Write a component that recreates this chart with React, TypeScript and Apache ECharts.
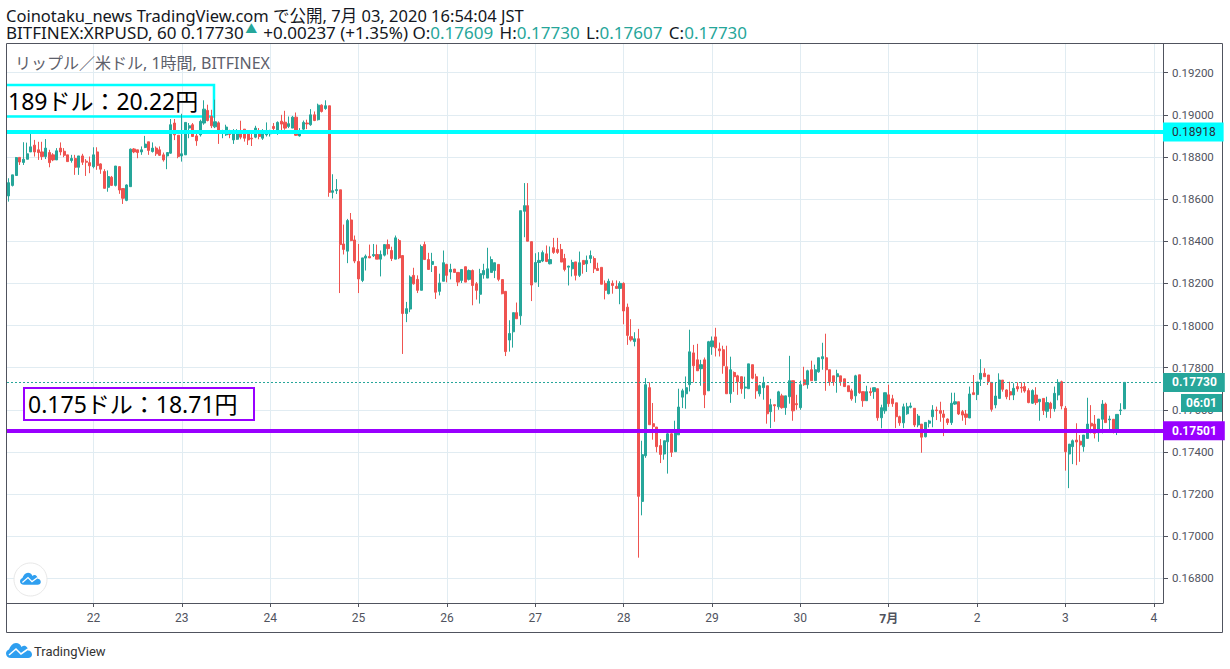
import React, { useEffect, useRef } from "react";
import * as echarts from "echarts";

// Prices are written as price x 100000, each candle as [open, close, low, high]
const jun21 = [[18615,18678,18588,18699],[18665,18715,18660,18715],[18712,18797,18712,18800],[18798,18776,18762,18798],[18774,18789,18762,18870],[18789,18815,18789,18868],[18824,18848,18824,18916],[18856,18824,18802,18881],[18834,18821,18786,18872],[18824,18802,18786,18872],[18802,18842,18790,18885],[18821,18773,18751,18834],[18810,18786,18780,18818],[18786,18829,18786,18842],[18842,18824,18808,18869],[18827,18808,18799,18842],[18810,18778,18778,18810],[18783,18793,18773,18810],[18793,18751,18715,18810],[18751,18805,18715,18805],[18805,18775,18762,18815],[18780,18775,18710,18790],[18773,18758,18723,18802]];
const jun22 = [[18754,18810,18746,18846],[18824,18759,18739,18846],[18767,18742,18720,18770],[18731,18651,18651,18742],[18656,18707,18635,18736],[18704,18665,18662,18710],[18665,18757,18660,18757],[18754,18643,18625,18757],[18650,18604,18577,18650],[18594,18667,18590,18670],[18659,18837,18659,18840],[18838,18824,18818,18842],[18834,18821,18794,18834],[18824,18834,18810,18850],[18845,18861,18842,18900],[18872,18831,18810,18872],[18826,18842,18821,18869],[18842,18815,18805,18850],[18834,18808,18805,18850],[18810,18786,18778,18821],[18805,18821,18742,18821],[18818,18953,18815,18980],[18961,18905,18880,18980],[18903,18802,18794,18903]];
const jun23 = [[18805,18815,18778,19005],[18810,18964,18810,18964],[18937,18948,18889,18961],[18953,18897,18897,18961],[18900,18877,18853,18921],[18905,18969,18897,18977],[18961,19027,18953,19069],[19021,18973,18969,19048],[18992,18948,18937,19024],[18943,18967,18937,19072],[18962,18913,18862,18969],[18913,18916,18889,18929],[18905,18942,18900,18953],[18910,18907,18889,18929],[18881,18913,18862,18932],[18884,18913,18881,18932],[18913,18894,18884,18972],[18932,18889,18873,18932],[18910,18881,18857,18916],[18889,18886,18852,18913],[18894,18937,18889,18948],[18913,18897,18884,18937],[18889,18916,18881,18932],[18905,18913,18897,18964]];
const jun24 = [[18910,18916,18897,18929],[18945,18935,18913,18961],[18913,18964,18905,18969],[18970,18956,18921,19000],[18965,18937,18929,19019],[18945,18958,18937,18992],[18937,18989,18937,18995],[18989,18903,18900,19011],[18900,18913,18897,18937],[18932,18964,18921,18973],[18961,18957,18932,18977],[18953,19000,18948,19027],[19000,18973,18970,19016],[18977,19046,18973,19053],[19046,19016,19011,19050],[19030,19043,19024,19069],[19043,18632,18611,19043],[18632,18640,18603,18718],[18640,18645,18624,18695],[18644,18384,18154,18644],[18387,18361,18337,18479],[18353,18498,18296,18506],[18501,18403,18400,18534],[18406,18306,18296,18427]];
const jun25 = [[18304,18221,18154,18387],[18214,18321,18206,18321],[18320,18329,18261,18337],[18328,18321,18320,18384],[18331,18337,18325,18387],[18337,18315,18315,18384],[18315,18337,18233,18356],[18334,18384,18328,18384],[18384,18365,18337,18408],[18356,18318,18306,18374],[18315,18416,18315,18427],[18403,18321,18315,18411],[18332,18057,17865,18332],[18057,18080,18016,18112],[18078,18230,18063,18238],[18238,18198,18194,18274],[18219,18167,18154,18238],[18167,18375,18167,18384],[18384,18313,18313,18398],[18313,18266,18266,18345],[18290,18304,18254,18345],[18280,18158,18126,18280],[18162,18202,18143,18246],[18210,18298,18210,18356]];
const jun26 = [[18290,18238,18205,18293],[18254,18266,18219,18293],[18268,18252,18249,18268],[18252,18206,18187,18252],[18214,18266,18202,18266],[18279,18206,18206,18279],[18219,18261,18214,18266],[18261,18190,18096,18266],[18198,18167,18123,18206],[18148,18246,18104,18269],[18241,18261,18222,18293],[18225,18269,18225,18369],[18252,18313,18252,18328],[18261,18298,18225,18298],[18290,18219,18210,18290],[18218,18151,18148,18218],[18162,17876,17855,18162],[17931,17962,17876,18025],[17970,18061,17895,18061],[18061,18032,18032,18109],[18046,18545,18003,18545],[18542,18569,18419,18676],[18569,18400,18400,18676],[18398,18192,18116,18398]];
const jun27 = [[18206,18299,18206,18343],[18299,18309,18183,18348],[18306,18346,18301,18356],[18340,18304,18301,18380],[18293,18313,18290,18375],[18369,18347,18340,18416],[18361,18347,18340,18416],[18361,18301,18301,18387],[18318,18266,18257,18340],[18277,18282,18190,18284],[18269,18299,18233,18312],[18302,18238,18214,18302],[18238,18298,18230,18351],[18309,18290,18246,18309],[18293,18309,18254,18332],[18318,18332,18296,18356],[18318,18269,18249,18328],[18271,18261,18261,18298],[18276,18196,18196,18276],[18200,18167,18124,18214],[18151,18210,18148,18222],[18200,18190,18151,18214],[18186,18176,18176,18214],[18176,18200,18101,18210]];
const jun28 = [[18200,18069,18006,18205],[18087,17953,17908,18104],[17947,17932,17924,18030],[17924,17937,17901,17968],[17937,17189,16898,17984],[17165,17387,17099,17453],[17382,17719,17372,17750],[17705,17529,17529,17730],[17534,17520,17458,17632],[17518,17425,17398,17518],[17430,17388,17347,17461],[17390,17453,17363,17453],[17448,17486,17297,17497],[17486,17398,17376,17497],[17401,17491,17401,17548],[17481,17613,17481,17700],[17660,17690,17608,17700],[17676,17705,17605,17758],[17719,17875,17687,17980],[17870,17809,17730,17908],[17837,17785,17785,17913],[17795,17814,17714,17837],[17837,17671,17608,17848],[17690,17923,17690,17927]];
const jun29 = [[17899,17927,17861,17948],[17946,17894,17853,17989],[17889,17880,17853,17919],[17885,17809,17771,17904],[17804,17676,17676,17904],[17676,17790,17633,17852],[17777,17757,17685,17782],[17761,17733,17671,17766],[17757,17700,17676,17757],[17703,17708,17652,17757],[17700,17818,17700,17818],[17814,17750,17745,17814],[17757,17690,17652,17771],[17676,17714,17663,17719],[17705,17728,17648,17757],[17714,17581,17534,17714],[17591,17624,17513,17652],[17624,17619,17543,17624],[17614,17685,17600,17690],[17666,17610,17605,17676],[17610,17666,17576,17666],[17662,17738,17629,17856],[17738,17595,17548,17738],[17629,17624,17600,17671]];
const jun30 = [[17610,17719,17600,17738],[17742,17719,17714,17804],[17719,17785,17700,17790],[17790,17738,17738,17833],[17738,17790,17738,17814],[17780,17847,17776,17847],[17842,17852,17790,17918],[17847,17790,17690,17961],[17790,17733,17714,17790],[17761,17733,17714,17761],[17757,17771,17681,17790],[17761,17733,17714,17761],[17747,17710,17710,17747],[17714,17686,17686,17714],[17690,17652,17643,17700],[17666,17761,17633,17766],[17766,17681,17676,17766],[17686,17643,17614,17686],[17643,17686,17643,17714],[17686,17681,17666,17705],[17686,17705,17652,17705],[17700,17562,17548,17700],[17562,17610,17512,17624],[17595,17681,17581,17681]];
const jul01 = [[17671,17629,17614,17719],[17652,17629,17614,17671],[17633,17567,17513,17633],[17567,17538,17524,17572],[17538,17614,17513,17629],[17581,17614,17576,17633],[17612,17618,17607,17634],[17607,17528,17518,17607],[17528,17570,17517,17580],[17532,17470,17396,17532],[17472,17540,17469,17540],[17536,17547,17516,17552],[17567,17599,17517,17622],[17599,17596,17551,17615],[17596,17583,17543,17638],[17580,17564,17475,17599],[17556,17539,17528,17559],[17539,17631,17528,17681],[17627,17638,17623,17681],[17638,17580,17575,17638],[17591,17575,17548,17599],[17580,17564,17528,17599],[17561,17675,17561,17710],[17681,17672,17672,17765]];
const jul02 = [[17672,17732,17646,17732],[17745,17773,17713,17840],[17773,17757,17757,17797],[17765,17734,17718,17765],[17730,17602,17591,17730],[17623,17665,17607,17730],[17654,17741,17654,17773],[17741,17697,17686,17741],[17694,17662,17650,17697],[17686,17670,17646,17733],[17670,17702,17646,17726],[17710,17699,17686,17730],[17707,17703,17681,17730],[17710,17689,17681,17730],[17691,17634,17631,17702],[17631,17691,17628,17697],[17670,17634,17623,17707],[17638,17650,17548,17650],[17654,17596,17575,17654],[17593,17634,17562,17662],[17631,17605,17560,17638],[17605,17678,17591,17710],[17670,17730,17645,17745],[17733,17618,17602,17738]];
const jul03 = [[17607,17401,17311,17618],[17390,17437,17228,17437],[17425,17453,17342,17459],[17456,17447,17337,17536],[17451,17433,17353,17480],[17425,17480,17401,17480],[17464,17532,17464,17657],[17536,17523,17488,17622],[17532,17488,17464,17575],[17491,17556,17448,17556],[17555,17627,17488,17646],[17627,17539,17539,17634],[17552,17556,17504,17572],[17555,17496,17488,17555],[17504,17578,17480,17578],[17596,17599,17575,17631],[17604,17730,17604,17730]];

const candleDays = [jun21, jun22, jun23, jun24, jun25, jun26, jun27, jun28, jun29, jun30, jul01, jul02, jul03];
const dayLabels = ["22", "23", "24", "25", "26", "27", "28", "29", "30", "7月", "2", "3", "4"];
const priceTicks = [0.168, 0.17, 0.172, 0.174, 0.176, 0.178, 0.18, 0.182, 0.184, 0.186, 0.188, 0.19, 0.192];
const resistance = 0.18918;
const support = 0.17501;
const lastPrice = 0.1773;

const UP = "#26a69a";
const DOWN = "#ef5350";
const GRID = "#e1ecf2";
const AXIS = "#50535e";
const CYAN = "#00ffff";
const PURPLE = "#9900ff";
const BLUE = "#2f9ff0";
const FONT = "'Noto Sans', 'Noto Sans CJK JP', sans-serif";
const AXFONT = "Roboto, sans-serif";
const SLOTS = 314; // hourly slots on the axis, including the empty future ones
const FIRST_DAY = 23;

const CLOUD = "M5 16C2 16 0 14 0 11.5C0 9.5 1.5 8 3 7.5C4.5 4 6.5 1 10 1C12.5 1 14.5 2.5 15.5 5C16.5 4 18 3.5 19.5 4C21.5 5 22 7 22 8.5C24.5 8.5 26 10.5 26 12.5C26 14.5 24.5 16 22 16Z";
echarts.graphic.registerShape("tvcloud", echarts.graphic.extendPath(CLOUD, {}) as any);

const isDayTick = (i: number) => i >= FIRST_DAY && (i - FIRST_DAY) % 24 === 0;

function lineEntry(value: number, color: string, width: number, type: any, labelColor: string, labelBg: string, weight: string) {
  return {
    yAxis: value,
    symbol: "none",
    lineStyle: { color, width, type, opacity: 1 },
    label: {
      show: true,
      position: "end",
      distance: 0,
      formatter: value.toFixed(5),
      color: labelColor,
      backgroundColor: labelBg,
      fontFamily: AXFONT,
      fontSize: 12,
      fontWeight: weight,
      lineHeight: 13,
      padding: [3, 8, 3, 9],
    },
  };
}

function logo(x: number, y: number, s: number, z: number) {
  return [
    { type: "tvcloud", x, y, scaleX: s, scaleY: s, z, style: { fill: BLUE } },
    {
      type: "polyline",
      z: z + 1,
      shape: { points: [[x + 3 * s, y + 13 * s], [x + 10 * s, y + 7 * s], [x + 15 * s, y + 12 * s], [x + 22 * s, y + 7 * s]] },
      style: { stroke: "#ffffff", lineWidth: 1.6 * s, fill: "none" },
    },
  ];
}

export default function App() {
  const ref = useRef<HTMLDivElement>(null);
  useEffect(() => {
    document.body.style.margin = "0";
    const chart = echarts.init(ref.current!, undefined, { renderer: "svg" });
    const candles = candleDays.flat().map((c) => c.map((v) => v / 100000));
    const slots = Array.from({ length: SLOTS }, (_, i) => String(i));
    chart.setOption({
      animation: false,
      backgroundColor: "#ffffff",
      grid: { left: 7, right: 67, top: 44, bottom: 66 },
      xAxis: {
        type: "category",
        data: slots,
        boundaryGap: true,
        axisLine: { show: true, lineStyle: { color: AXIS, width: 1 }, onZero: false },
        axisTick: { show: true, interval: (i: number) => isDayTick(i), alignWithLabel: true, length: 4, lineStyle: { color: AXIS } },
        axisLabel: {
          interval: (i: number) => isDayTick(i),
          margin: 9,
          color: AXIS,
          fontFamily: AXFONT,
          fontSize: 12,
          hideOverlap: false,
          formatter: (_: string, i: number) => {
            const t = dayLabels[(i - FIRST_DAY) / 24];
            return t === "7月" ? `{m|${t}}` : t;
          },
          rich: { m: { fontWeight: "bold", fontSize: 12, color: AXIS, fontFamily: FONT } },
        },
        splitLine: { show: true, interval: (i: number) => isDayTick(i), alignWithLabel: true, lineStyle: { color: GRID, width: 1 } },
      },
      yAxis: {
        type: "value",
        position: "right",
        scale: true,
        min: 0.166828,
        max: 0.193362,
        axisLine: { show: true, onZero: false, lineStyle: { color: AXIS, width: 1 } },
        axisTick: { show: true, length: 5, lineStyle: { color: AXIS }, customValues: priceTicks },
        axisLabel: {
          margin: 9,
          color: AXIS,
          fontFamily: AXFONT,
          fontSize: 11.5,
          customValues: priceTicks,
          formatter: (v: number) => v.toFixed(5),
          showMinLabel: true,
          showMaxLabel: true,
        },
        splitLine: { show: true, lineStyle: { color: GRID, width: 1 } },
      },
      series: [
        {
          type: "candlestick",
          data: candles,
          z: 5,
          barWidth: 2.6,
          itemStyle: { color: UP, color0: DOWN, borderColor: UP, borderColor0: DOWN, borderWidth: 1 },
          markLine: {
            silent: true,
            animation: false,
            symbol: "none",
            precision: 5,
            z: 6,
            data: [
              lineEntry(lastPrice, UP, 1, [2, 2], "#ffffff", UP, "bold"),
              lineEntry(resistance, CYAN, 4, "solid", "#2a2e39", CYAN, "normal"),
              lineEntry(support, PURPLE, 4, "solid", "#ffffff", PURPLE, "bold"),
            ],
          },
        },
      ],
      graphic: { elements: [
        { type: "rect", z: 0, shape: { x: 6.5, y: 43.5, width: 1216, height: 589 }, style: { fill: "none", stroke: AXIS, lineWidth: 1 } },
        { type: "text", z: 20, x: 6, y: 15, style: { text: "Coinotaku_news TradingView.com で公開, 7月 03, 2020 16:54:04 JST", fill: "#131722", font: `16.5px ${FONT}`, verticalAlign: "middle" } },
        { type: "text", z: 20, x: 6, y: 32, style: {
          text: "{k|BITFINEX:XRPUSD, 60 0.17730}{t|▲}{k| +0.00237 (+1.35%) O:}{v|0.17609}{g| H:}{v|0.17730}{g| L:}{v|0.17607}{g| C:}{v|0.17730}",
          font: `17px ${FONT}`,
          verticalAlign: "middle",
          rich: {
            k: { fill: "#131722", font: `17px ${FONT}` },
            g: { fill: "#131722", font: `17px ${FONT}`, padding: [0, 0, 0, 2] },
            v: { fill: UP, font: `17px ${FONT}` },
            t: { fill: UP, font: `12px ${FONT}`, width: 15, align: "center", verticalAlign: "top" },
          },
        } },
        { type: "text", z: 20, x: 15, y: 63, style: { text: "リップル／米ドル, 1時間, BITFINEX", fill: "#5d606b", font: `16px ${FONT}`, verticalAlign: "middle" } },
        { type: "polyline", z: 1, shape: { points: [[7, 85], [214, 85], [214, 116.5], [7, 116.5]] }, style: { fill: "none", stroke: CYAN, lineWidth: 2.5 } },
        { type: "text", z: 20, x: 8, y: 101, style: { text: "189ドル：20.22円", fill: "#000000", font: `23px ${FONT}`, verticalAlign: "middle" } },
        { type: "rect", z: 1, shape: { x: 24, y: 388, width: 230, height: 32 }, style: { fill: "#ffffff", stroke: PURPLE, lineWidth: 2 } },
        { type: "text", z: 20, x: 28, y: 404, style: { text: "0.175ドル：18.71円", fill: "#000000", font: `23px ${FONT}`, verticalAlign: "middle" } },
        { type: "rect", z: 21, shape: { x: 1181, y: 394, width: 41, height: 18 }, style: { fill: UP } },
        { type: "text", z: 22, x: 1201.5, y: 403, style: { text: "06:01", fill: "#ffffff", font: `bold 12px ${AXFONT}`, align: "center", verticalAlign: "middle" } },
        { type: "circle", z: 3, shape: { cx: 30.5, cy: 579.5, r: 16.5 }, style: { fill: "#ffffff", stroke: "#e8e8e8", lineWidth: 1 } },
        ...logo(20, 572, 0.8, 4),
        ...logo(6, 642, 1, 4),
        { type: "text", z: 20, x: 34, y: 651, style: { text: "TradingView", fill: "#333333", font: `13px ${AXFONT}`, verticalAlign: "middle" } },
      ] },
    });
    return () => chart.dispose();
  }, []);
  return <div ref={ref} style={{ width: 1230, height: 669 }} />;
}
